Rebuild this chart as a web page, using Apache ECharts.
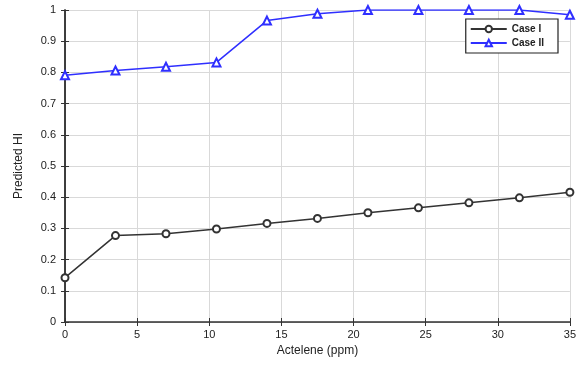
<!DOCTYPE html>
<html><head><meta charset="utf-8">
<script src="https://cdn.jsdelivr.net/npm/echarts@6/dist/echarts.min.js"></script>
<style>html,body{margin:0;padding:0;background:#fff}#c{width:579px;height:368px}</style>
</head><body><div id="c"></div>
<script>
const xValues = [0, 3.5, 7, 10.5, 14, 17.5, 21, 24.5, 28, 31.5, 35];
const caseI = [0.142, 0.277, 0.283, 0.298, 0.316, 0.332, 0.350, 0.366, 0.382, 0.398, 0.416];
const caseII = [0.791, 0.806, 0.818, 0.832, 0.966, 0.988, 1.0, 1.0, 1.0, 1.0, 0.985];
const seriesNames = ['Case I', 'Case II'];
const xTicks = [0, 5, 10, 15, 20, 25, 30, 35];
const yTicks = [0, 0.1, 0.2, 0.3, 0.4, 0.5, 0.6, 0.7, 0.8, 0.9, 1];

const chart = echarts.init(document.getElementById('c'));
const font = 'Liberation Sans, Arial, sans-serif';
const pair = (ys) => xValues.map((x, i) => [x, ys[i]]);
chart.setOption({
  animation: false,
  backgroundColor: '#fff',
  grid: { left: 65, right: 7, top: 10, bottom: 46 },
  legend: {
    right: 21, top: 19, orient: 'vertical', itemGap: 4,
    itemWidth: 36, itemHeight: 8,
    backgroundColor: '#fff', borderColor: '#222', borderWidth: 1.2, padding: [5, 14, 5, 4],
    textStyle: { fontFamily: font, fontSize: 10, fontWeight: 'bold', color: '#222' },
    data: seriesNames
  },
  xAxis: [{
    type: 'value', min: 0, max: 35, interval: 5,
    name: 'Actelene (ppm)', nameLocation: 'middle', nameGap: 23,
    nameTextStyle: { fontFamily: font, fontSize: 12, color: '#222' },
    axisLine: { show: true, lineStyle: { color: '#333', width: 1.5 } },
    axisTick: { show: true, inside: true, length: 4, lineStyle: { color: '#333' } },
    axisLabel: { fontFamily: font, fontSize: 11, color: '#222', margin: 7 },
    splitLine: { show: true, lineStyle: { color: '#d9d9d9', width: 1 } }
  }, {
    type: 'value', min: 0, max: 35, interval: 5, position: 'top',
    axisLine: { show: true, lineStyle: { color: '#555', width: 1 } },
    axisTick: { show: true, inside: true, length: 4, lineStyle: { color: '#333' } },
    axisLabel: { show: false }, splitLine: { show: false }
  }],
  yAxis: [{
    type: 'value', min: 0, max: 1, interval: 0.1,
    name: 'Predicted HI', nameLocation: 'middle', nameGap: 40, nameRotate: 90,
    nameTextStyle: { fontFamily: font, fontSize: 12, color: '#222' },
    axisLine: { show: true, lineStyle: { color: '#333', width: 1.5 } },
    axisTick: { show: true, inside: true, length: 4, lineStyle: { color: '#333' } },
    axisLabel: { fontFamily: font, fontSize: 11, color: '#222', margin: 9,
      formatter: v => String(Math.round(v * 10) / 10) },
    splitLine: { show: true, lineStyle: { color: '#d9d9d9', width: 1 } }
  }, {
    type: 'value', min: 0, max: 1, interval: 0.1, position: 'right',
    axisLine: { show: true, lineStyle: { color: '#333', width: 1.5 } },
    axisTick: { show: true, inside: true, length: 4, lineStyle: { color: '#333' } },
    axisLabel: { show: false }, splitLine: { show: false }
  }],
  series: [{
    name: seriesNames[0], type: 'line', data: pair(caseI),
    symbol: 'emptyCircle', symbolSize: 7,
    lineStyle: { color: '#333', width: 1.5 },
    itemStyle: { color: '#333', borderColor: '#333', borderWidth: 1.3 }
  }, {
    name: seriesNames[1], type: 'line', data: pair(caseII),
    symbol: 'emptyTriangle', symbolSize: 8,
    lineStyle: { color: '#2f2fff', width: 1.5 },
    itemStyle: { color: '#2f2fff', borderColor: '#2f2fff', borderWidth: 1.3 }
  }]
});
</script></body></html>
